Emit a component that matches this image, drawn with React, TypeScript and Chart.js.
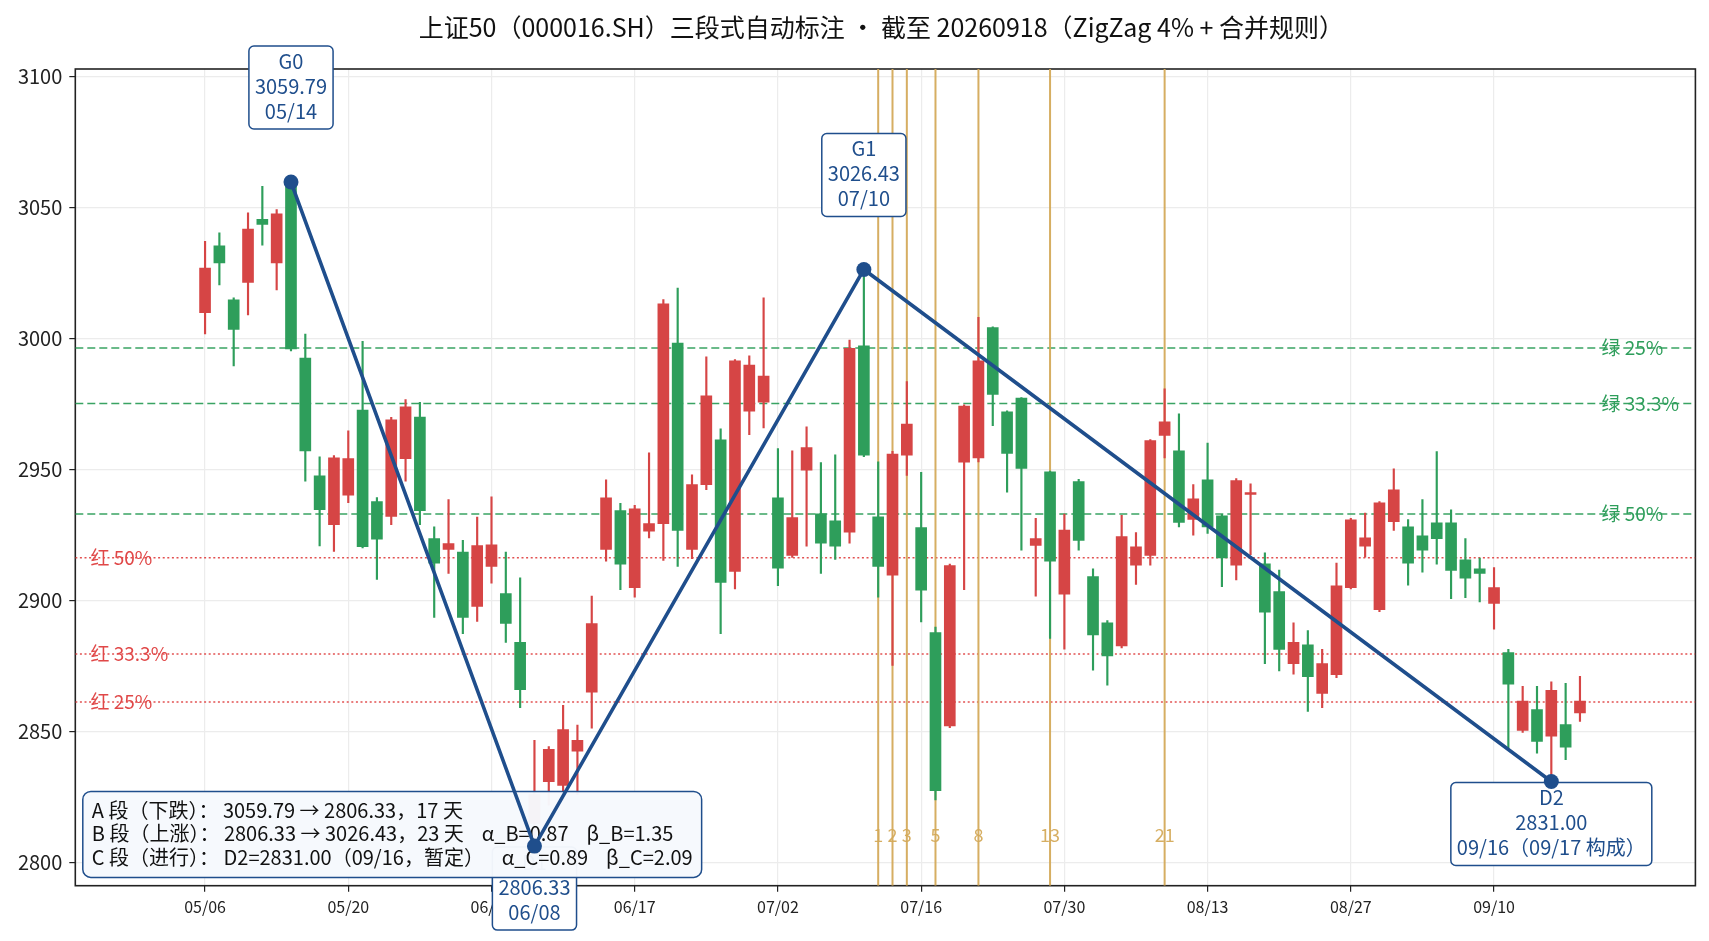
import React, { useEffect, useRef } from "react";
import { Chart, registerables } from "chart.js";

Chart.register(...registerables);

const FONT = '"Noto Sans CJK SC", "Noto Sans", sans-serif';

const titleText = "上证50（000016.SH）三段式自动标注 · 截至 20260918（ZigZag 4% + 合并规则）";

const tickIdx = [0, 10, 20, 30, 40, 50, 60, 70, 80, 90];
const tickLabels = ["05/06", "05/20", "06/03", "06/17", "07/02", "07/16", "07/30", "08/13", "08/27", "09/10"];
const yTicks = [2800, 2850, 2900, 2950, 3000, 3050, 3100];

const opens = [
  3009.9, 3035.4, 3014.8, 3021.5, 3045.6, 3028.9, 3059.79, 2992.6, 2947.7, 2929.0,
  2940.3, 2972.8, 2937.8, 2932.2, 2954.2, 2970.1, 2923.7, 2919.6, 2918.6, 2897.8,
  2913.1, 2902.7, 2884.1, 2815.0, 2830.9, 2829.5, 2842.6, 2865.1, 2919.6, 2934.4,
  2905.0, 2926.5, 2929.4, 2998.3, 2919.6, 2944.3, 2961.4, 2911.2, 2972.3, 2975.8,
  2939.3, 2917.3, 2949.8, 2933.2, 2930.5, 2926.2, 2997.3, 2932.0, 2909.7, 2955.5,
  2927.9, 2887.8, 2852.2, 2952.9, 2954.5, 3004.2, 2972.1, 2977.3, 2921.1, 2949.2,
  2902.5, 2945.5, 2909.2, 2891.6, 2882.7, 2913.6, 2917.3, 2963.1, 2957.2, 2931.0,
  2946.1, 2932.4, 2913.6, 2940.6, 2914.1, 2903.5, 2876.0, 2883.2, 2864.6, 2871.8,
  2905.0, 2920.8, 2896.6, 2930.2, 2928.2, 2924.8, 2929.7, 2929.7, 2915.6, 2912.2,
  2899.0, 2880.2, 2850.5, 2858.4, 2848.3, 2852.7, 2857.2,
];
const highs = [
  3037.2, 3040.4, 3015.6, 3048.0, 3058.2, 3049.3, 3059.79, 3001.8, 2954.9, 2955.4,
  2964.8, 2999.0, 2939.4, 2970.0, 2976.8, 2975.7, 2928.2, 2938.6, 2923.0, 2931.9,
  2939.6, 2918.6, 2908.7, 2846.7, 2844.3, 2860.1, 2852.5, 2901.8, 2946.1, 2937.2,
  2936.4, 2956.4, 3014.9, 3019.3, 2948.0, 2993.1, 2965.6, 2992.0, 2993.5, 3015.6,
  2958.1, 2957.2, 2966.4, 2952.7, 2955.7, 2999.5, 3026.43, 2953.0, 2957.0, 2983.6,
  2949.0, 2889.9, 2914.0, 2974.8, 3008.2, 3004.5, 2972.5, 2977.5, 2931.4, 2949.5,
  2933.1, 2946.3, 2912.2, 2892.4, 2932.6, 2926.0, 2961.5, 2980.9, 2971.3, 2944.3,
  2960.2, 2933.0, 2946.6, 2944.6, 2918.3, 2911.7, 2891.6, 2888.6, 2881.4, 2914.4,
  2931.4, 2933.4, 2937.8, 2950.3, 2931.0, 2938.6, 2956.9, 2934.7, 2923.7, 2916.3,
  2912.6, 2881.4, 2867.3, 2867.3, 2869.0, 2868.5, 2871.1,
];
const lows = [
  3001.8, 3020.5, 2989.6, 3009.1, 3035.7, 3018.6, 2995.3, 2945.6, 2920.9, 2918.8,
  2937.4, 2920.1, 2908.1, 2929.0, 2945.6, 2929.0, 2893.6, 2910.4, 2887.4, 2892.1,
  2906.7, 2884.1, 2859.2, 2806.33, 2822.0, 2824.0, 2826.0, 2851.3, 2915.1, 2904.2,
  2901.3, 2924.0, 2915.4, 2913.1, 2916.0, 2942.4, 2887.4, 2904.5, 2963.4, 2965.9,
  2905.7, 2916.5, 2920.8, 2910.4, 2915.8, 2922.0, 2955.0, 2901.3, 2875.3, 2947.8,
  2891.9, 2824.0, 2851.5, 2904.2, 2953.0, 2966.8, 2941.4, 2919.3, 2901.7, 2885.6,
  2881.5, 2919.3, 2873.5, 2867.8, 2882.0, 2906.2, 2913.6, 2954.5, 2928.2, 2925.0,
  2925.7, 2905.4, 2907.9, 2917.6, 2876.0, 2873.2, 2872.0, 2857.7, 2859.2, 2870.6,
  2904.5, 2916.6, 2895.8, 2926.8, 2905.9, 2910.9, 2913.9, 2900.8, 2901.2, 2899.5,
  2889.1, 2843.8, 2849.7, 2841.8, 2831.0, 2839.3, 2853.9,
];
const closes = [
  3027.0, 3028.9, 3003.5, 3041.8, 3043.6, 3047.7, 2996.1, 2957.2, 2934.7, 2954.5,
  2954.2, 2920.6, 2923.5, 2969.0, 2974.0, 2934.4, 2914.3, 2921.8, 2893.6, 2921.0,
  2921.3, 2891.3, 2866.0, 2826.0, 2843.3, 2850.8, 2846.7, 2891.3, 2939.3, 2913.9,
  2935.1, 2929.4, 3013.3, 2926.8, 2944.3, 2978.2, 2907.0, 2991.6, 2989.9, 2985.7,
  2912.4, 2931.7, 2958.4, 2922.0, 2920.8, 2996.3, 2955.5, 2913.1, 2956.0, 2967.4,
  2904.0, 2827.5, 2913.4, 2974.3, 2991.6, 2978.7, 2956.2, 2950.5, 2923.7, 2915.1,
  2927.0, 2923.0, 2886.9, 2878.9, 2924.5, 2920.6, 2961.1, 2968.3, 2929.9, 2938.9,
  2928.2, 2916.3, 2945.8, 2941.3, 2895.6, 2881.4, 2884.1, 2871.0, 2876.0, 2905.7,
  2930.9, 2924.0, 2937.4, 2942.3, 2914.3, 2919.3, 2923.7, 2911.6, 2908.6, 2910.4,
  2905.0, 2868.1, 2861.7, 2846.3, 2865.8, 2844.1, 2861.7,
];

const pivotIdx = [6, 23, 46, 94];
const pivotVal = [3059.79, 2806.33, 3026.43, 2831.0];
const pivotName = ["G0", "D1", "G1", "D2"];
const pivotDate = ["05/14", "06/08", "07/10", "09/16（09/17 构成）"];
const pivotAbove = [true, false, true, false];

const fibOffsets = [1, 2, 3, 5, 8, 13, 21];
const levelPcts = [0.25, 1 / 3, 0.5];
const levelNames = ["25%", "33.3%", "50%"];

const infoLines = [
  "A 段（下跌）： 3059.79 → 2806.33，17 天",
  "B 段（上涨）： 2806.33 → 3026.43，23 天    α_B=0.87    β_B=1.35",
  "C 段（进行）： D2=2831.00（09/16，暂定）    α_C=0.89    β_C=2.09",
];

const X_MIN = -9.06;
const X_MAX = 104.06;
const Y_MIN = 2791.22;
const Y_MAX = 3102.94;

const RED = "#d64545";
const GREEN = "#2e9e5b";
const BLUE = "#1f4e8c";
const GOLD = "rgba(212,170,90,0.95)";

function roundRect(ctx: CanvasRenderingContext2D, x: number, y: number, w: number, h: number, r: number) {
  ctx.beginPath();
  ctx.moveTo(x + r, y);
  ctx.lineTo(x + w - r, y);
  ctx.arcTo(x + w, y, x + w, y + r, r);
  ctx.lineTo(x + w, y + h - r);
  ctx.arcTo(x + w, y + h, x + w - r, y + h, r);
  ctx.lineTo(x + r, y + h);
  ctx.arcTo(x, y + h, x, y + h - r, r);
  ctx.lineTo(x, y + r);
  ctx.arcTo(x, y, x + r, y, r);
  ctx.closePath();
}

export default function App() {
  const ref = useRef<HTMLCanvasElement>(null);

  useEffect(() => {
    document.body.style.margin = "0";
    const canvas = ref.current!;
    const barColors = opens.map((o, i) => (closes[i] >= o ? RED : GREEN));
    const bodyData = opens.map((o, i) => ({ x: i, y: [o, closes[i]] }));
    const wickData = opens.map((o, i) => ({ x: i, y: [lows[i], highs[i]] }));

    const G0 = pivotVal[0], B1 = pivotVal[1], G1 = pivotVal[2];
    const greenLevels = levelPcts.map((p) => G0 - p * (G0 - B1));
    const redLevels = levelPcts.map((p) => B1 + p * (G1 - B1));
    const fibX = fibOffsets.map((f) => pivotIdx[2] + f);

    const datasets: any[] = [];
    datasets.push({
      type: "line",
      data: pivotIdx.map((x, k) => ({ x, y: pivotVal[k] })),
      borderColor: BLUE,
      borderWidth: 3.6,
      pointRadius: 7.5,
      pointBackgroundColor: BLUE,
      pointBorderWidth: 0,
      order: 0,
      clip: false,
    });
    datasets.push({
      type: "bar",
      data: bodyData,
      backgroundColor: barColors,
      barThickness: 11,
      grouped: false,
      borderWidth: 0,
      borderSkipped: false,
      order: 1,
    });
    datasets.push({
      type: "bar",
      data: wickData,
      backgroundColor: barColors,
      barThickness: 1.5,
      grouped: false,
      borderWidth: 0,
      borderSkipped: false,
      order: 2,
    });
    fibX.forEach((fx) => {
      datasets.push({
        type: "line",
        data: [
          { x: fx, y: Y_MIN },
          { x: fx, y: Y_MAX },
        ],
        borderColor: GOLD,
        borderWidth: 2,
        pointRadius: 0,
        order: 3,
      });
    });
    greenLevels.forEach((lv) => {
      datasets.push({
        type: "line",
        data: [
          { x: X_MIN, y: lv },
          { x: X_MAX, y: lv },
        ],
        borderColor: "rgba(46,158,91,0.95)",
        borderWidth: 1.5,
        borderDash: [8, 4],
        pointRadius: 0,
        order: 4,
      });
    });
    redLevels.forEach((lv) => {
      datasets.push({
        type: "line",
        data: [
          { x: X_MIN, y: lv },
          { x: X_MAX, y: lv },
        ],
        borderColor: "rgba(224,72,72,0.95)",
        borderWidth: 1.5,
        borderDash: [2, 2.6],
        pointRadius: 0,
        order: 4,
      });
    });

    const drawPivotBoxes = (chart: any) => {
      const ctx: CanvasRenderingContext2D = chart.ctx;
      const xs = chart.scales.x, ys = chart.scales.y;
      ctx.save();
      ctx.font = `20px ${FONT}`;
      ctx.textAlign = "center";
      ctx.textBaseline = "middle";
      pivotIdx.forEach((pi, k) => {
        const px = xs.getPixelForValue(pi);
        const py = ys.getPixelForValue(pivotVal[k]);
        const lines = [pivotName[k], pivotVal[k].toFixed(2), pivotDate[k]];
        const w = Math.max(...lines.map((l) => ctx.measureText(l).width)) + 12;
        const c1 = pivotAbove[k] ? py - 121 : py + 16;
        const top = c1 - 15;
        const h = 83;
        roundRect(ctx, px - w / 2, top, w, h, 5);
        ctx.fillStyle = "#ffffff";
        ctx.fill();
        ctx.lineWidth = 1.5;
        ctx.strokeStyle = BLUE;
        ctx.stroke();
        ctx.fillStyle = BLUE;
        lines.forEach((l, j) => ctx.fillText(l, px, c1 + j * 25));
      });
      ctx.restore();
    };

    const drawInfoBox = (chart: any) => {
      const ctx: CanvasRenderingContext2D = chart.ctx;
      const ca = chart.chartArea;
      ctx.save();
      ctx.font = `20px ${FONT}`;
      const w = Math.max(...infoLines.map((l) => ctx.measureText(l).width)) + 18;
      const h = 86;
      const left = ca.left + 7.5;
      const top = ca.bottom - 8.3 - h;
      roundRect(ctx, left, top, w, h, 8);
      ctx.fillStyle = "rgba(246,249,253,0.97)";
      ctx.fill();
      ctx.lineWidth = 1.5;
      ctx.strokeStyle = BLUE;
      ctx.stroke();
      ctx.fillStyle = "#111";
      ctx.textAlign = "left";
      ctx.textBaseline = "middle";
      infoLines.forEach((l, j) => ctx.fillText(l, left + 9, top + 19 + j * 23.5));
      ctx.restore();
    };

    const annot = {
      id: "annot",
      beforeDatasetsDraw(chart: any) {
        const ctx: CanvasRenderingContext2D = chart.ctx;
        const ca = chart.chartArea;
        const xs = chart.scales.x, ys = chart.scales.y;
        ctx.save();
        ctx.strokeStyle = "#222";
        ctx.lineWidth = 1.6;
        ctx.strokeRect(ca.left, ca.top, ca.right - ca.left, ca.bottom - ca.top);
        ctx.font = `19px ${FONT}`;
        ctx.textBaseline = "middle";
        ctx.textAlign = "left";
        ctx.fillStyle = "#2e9e5b";
        greenLevels.forEach((lv, k) => {
          ctx.fillText("绿 " + levelNames[k], xs.getPixelForValue(97.5), ys.getPixelForValue(lv));
        });
        ctx.fillStyle = "#e04848";
        redLevels.forEach((lv, k) => {
          ctx.fillText("红 " + levelNames[k], xs.getPixelForValue(-8), ys.getPixelForValue(lv));
        });
        ctx.restore();
      },
      beforeDatasetDraw(chart: any, args: any) {
        if (args.index === 0) {
          drawPivotBoxes(chart);
          drawInfoBox(chart);
        }
      },
      afterDatasetsDraw(chart: any) {
        const ctx: CanvasRenderingContext2D = chart.ctx;
        const xs = chart.scales.x, ys = chart.scales.y;
        ctx.save();
        ctx.font = `18px ${FONT}`;
        ctx.textAlign = "center";
        ctx.textBaseline = "middle";
        ctx.fillStyle = "rgba(212,170,90,0.95)";
        fibX.forEach((fx, k) => {
          ctx.fillText(String(fibOffsets[k]), xs.getPixelForValue(fx), ys.getPixelForValue(2810.6));
        });
        ctx.restore();
      },
      afterDraw(chart: any) {
        const ctx: CanvasRenderingContext2D = chart.ctx;
        const ca = chart.chartArea;
        ctx.save();
        ctx.font = `25px ${FONT}`;
        ctx.fillStyle = "#111";
        ctx.textAlign = "center";
        ctx.textBaseline = "middle";
        ctx.fillText(titleText, (ca.left + ca.right) / 2 - 4, 27);
        ctx.restore();
      },
    };

    const chart = new Chart(canvas, {
      type: "bar",
      data: { datasets },
      options: {
        responsive: false,
        animation: false,
        devicePixelRatio: 1,
        events: [],
        layout: { padding: { top: 69, right: 13.6, left: 0, bottom: 0 } },
        plugins: {
          legend: { display: false },
          tooltip: { enabled: false },
          title: { display: false },
        },
        scales: {
          x: {
            type: "linear",
            min: X_MIN,
            max: X_MAX,
            offset: false,
            border: { display: false },
            grid: { color: "#ececec", lineWidth: 1.2, tickColor: "#222", tickLength: 6, tickWidth: 1.2, offset: false },
            ticks: {
              autoSkip: false,
              maxRotation: 0,
              padding: 6,
              color: "#222",
              font: { family: FONT, size: 16 },
              callback: (v: any) => {
                const k = tickIdx.indexOf(Number(v));
                return k >= 0 ? tickLabels[k] : "";
              },
            },
            afterBuildTicks: (s: any) => {
              s.ticks = tickIdx.map((v) => ({ value: v }));
            },
            afterFit: (s: any) => {
              s.height = 55.3;
            },
          },
          y: {
            type: "linear",
            min: Y_MIN,
            max: Y_MAX,
            border: { display: false },
            grid: { color: "#ececec", lineWidth: 1.2, tickColor: "#222", tickLength: 6, tickWidth: 1.2 },
            ticks: {
              padding: 7,
              color: "#222",
              font: { family: FONT, size: 20 },
              callback: (v: any) => String(Math.round(Number(v))),
            },
            afterBuildTicks: (s: any) => {
              s.ticks = yTicks.map((v) => ({ value: v }));
            },
            afterFit: (s: any) => {
              s.width = 75.3;
            },
          },
        },
      } as any,
      plugins: [annot],
    });
    return () => chart.destroy();
  }, []);

  return (
    <canvas
      ref={ref}
      width={1709}
      height={941}
      style={{ display: "block", width: "1709px", height: "941px" }}
    />
  );
}
